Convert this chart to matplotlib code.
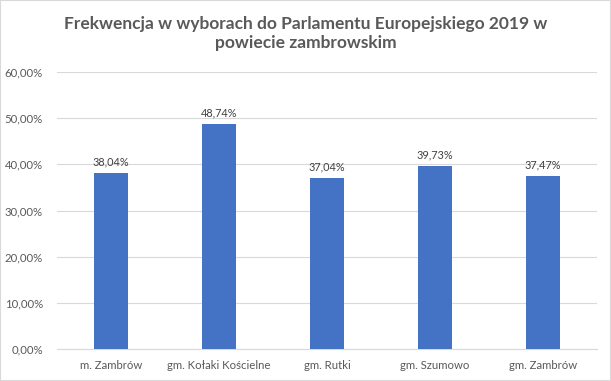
import matplotlib
matplotlib.use("Agg")
import matplotlib.pyplot as plt
from matplotlib.ticker import FuncFormatter
from matplotlib.patches import Rectangle

categories = ["m. Zambrów", "gm. Kołaki Kościelne", "gm. Rutki", "gm. Szumowo", "gm. Zambrów"]
turnout = [38.04, 48.74, 37.04, 39.73, 37.47]
title = "Frekwencja w wyborach do Parlamentu Europejskiego 2019 w\npowiecie zambrowskim"

plt.rcParams["font.family"] = ["Lato", "DejaVu Sans"]
text_col = "#595959"

fig = plt.figure(figsize=(6.11, 3.81), dpi=100)
fig.patches.append(Rectangle((0, 0), 1, 1, transform=fig.transFigure, fill=False,
                             edgecolor="#d9d9d9", linewidth=1.5))
ax = fig.add_axes([0.093, 0.084, 0.884, 0.727])

x = range(len(categories))
ax.bar(x, turnout, width=0.31, color="#4472C4", zorder=3)
for xi, v in zip(x, turnout):
    ax.text(xi, v + 1.2, f"{v:.2f}%".replace(".", ","), ha="center", va="bottom",
            fontsize=7.8, color="#404040")

ax.set_xlim(-0.5, len(categories) - 0.5)
ax.set_ylim(0, 60)
ax.set_yticks(range(0, 61, 10))
ax.yaxis.set_major_formatter(FuncFormatter(lambda v, p: f"{v:.2f}%".replace(".", ",")))
ax.set_xticks(list(x))
ax.set_xticklabels(categories)
ax.tick_params(axis="both", length=0, labelsize=8.2, labelcolor=text_col, pad=8)
ax.tick_params(axis="y", pad=10)
ax.grid(axis="y", color="#d9d9d9", linewidth=0.8, zorder=0)
for s in ["top", "right", "left"]:
    ax.spines[s].set_visible(False)
ax.spines["bottom"].set_color("#d9d9d9")

fig.text(0.5, 0.912, title, ha="center", va="center", fontsize=12.5,
         fontweight="bold", color=text_col, linespacing=1.3)

fig.savefig("out.png", dpi=100)
